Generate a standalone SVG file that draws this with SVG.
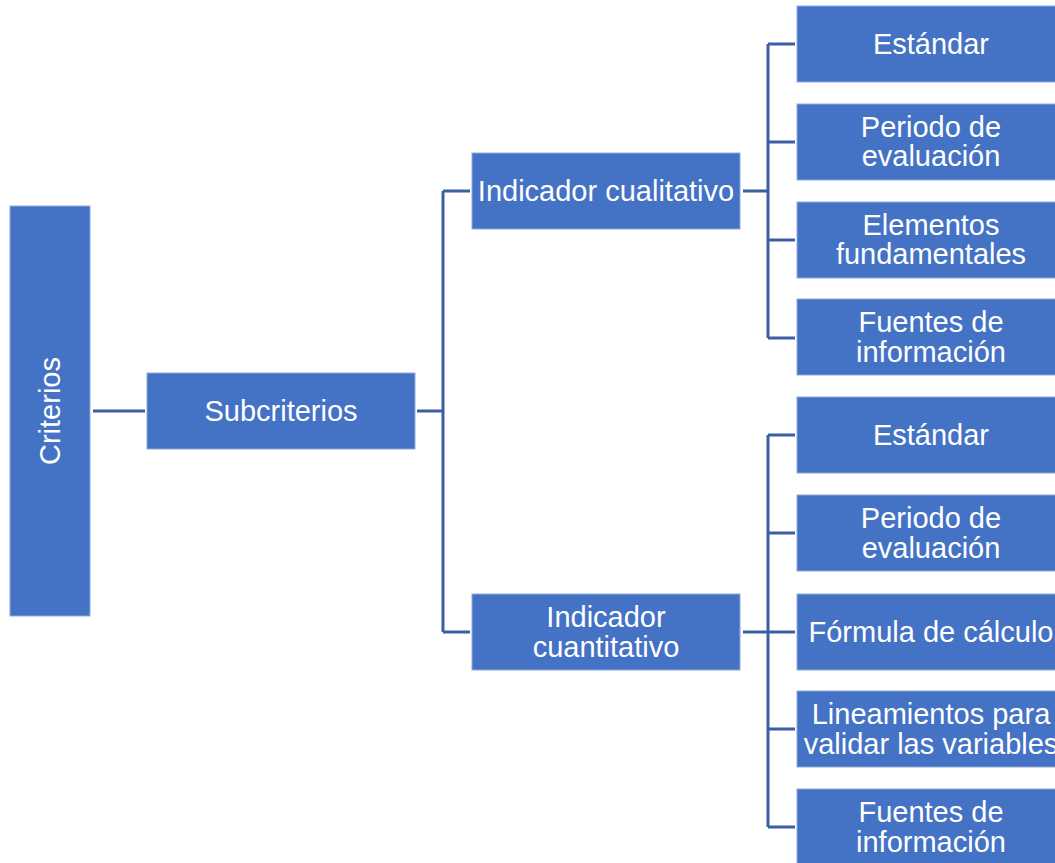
<svg xmlns="http://www.w3.org/2000/svg" width="1055" height="863" viewBox="0 0 1055 863">
<style>
.n{fill:#4472C4;stroke:#8FAADC;stroke-width:1}
.t{font-family:"Liberation Sans",Arial,sans-serif;font-size:29px;fill:#fff;text-anchor:middle}
.c{fill:none;stroke:#3C5FA3;stroke-width:3}
</style>
<rect width="1055" height="863" fill="#fff"/>
<g id="connectors">
<path class="c" d="M93 411H145"/>
<path class="c" d="M417 411H443M443 191V632M443 191H470M443 632H470"/>
<path class="c" d="M743 191H768M768 44V338M768 44H795M768 142H795M768 240H795M768 338H795"/>
<path class="c" d="M743 632H768M768 435V827M768 435H795M768 533H795M768 632H795M768 729H795M768 827H795"/>
</g>
<g id="criterios"><rect class="n" x="10" y="206" width="80" height="410"/><text class="t" transform="translate(60 411) rotate(-90)">Criterios</text></g>
<g id="subcriterios"><rect class="n" x="147" y="373" width="268" height="76"/><text class="t" x="281" y="421">Subcriterios</text></g>
<g id="ind-cual"><rect class="n" x="472" y="153" width="268" height="76"/><text class="t" x="606" y="201">Indicador cualitativo</text></g>
<g id="ind-cuant"><rect class="n" x="472" y="594" width="268" height="76"/><text class="t" x="606" y="627">Indicador</text><text class="t" x="606" y="657">cuantitativo</text></g>
<g id="q-estandar"><rect class="n" x="797" y="6" width="268" height="76"/><text class="t" x="931" y="54">Estándar</text></g>
<g id="q-periodo"><rect class="n" x="797" y="104" width="268" height="76"/><text class="t" x="931" y="137">Periodo de</text><text class="t" x="931" y="166">evaluación</text></g>
<g id="q-elementos"><rect class="n" x="797" y="202" width="268" height="76"/><text class="t" x="931" y="235">Elementos</text><text class="t" x="931" y="264">fundamentales</text></g>
<g id="q-fuentes"><rect class="n" x="797" y="299" width="268" height="76"/><text class="t" x="931" y="332">Fuentes de</text><text class="t" x="931" y="362">información</text></g>
<g id="n-estandar"><rect class="n" x="797" y="397" width="268" height="76"/><text class="t" x="931" y="445">Estándar</text></g>
<g id="n-periodo"><rect class="n" x="797" y="495" width="268" height="76"/><text class="t" x="931" y="528">Periodo de</text><text class="t" x="931" y="558">evaluación</text></g>
<g id="n-formula"><rect class="n" x="797" y="594" width="268" height="76"/><text class="t" x="931" y="642">Fórmula de cálculo</text></g>
<g id="n-lineamientos"><rect class="n" x="797" y="691" width="268" height="76"/><text class="t" x="931" y="724">Lineamientos para</text><text class="t" x="931" y="754">validar las variables</text></g>
<g id="n-fuentes"><rect class="n" x="797" y="789" width="268" height="76"/><text class="t" x="931" y="822">Fuentes de</text><text class="t" x="931" y="852">información</text></g>
</svg>
